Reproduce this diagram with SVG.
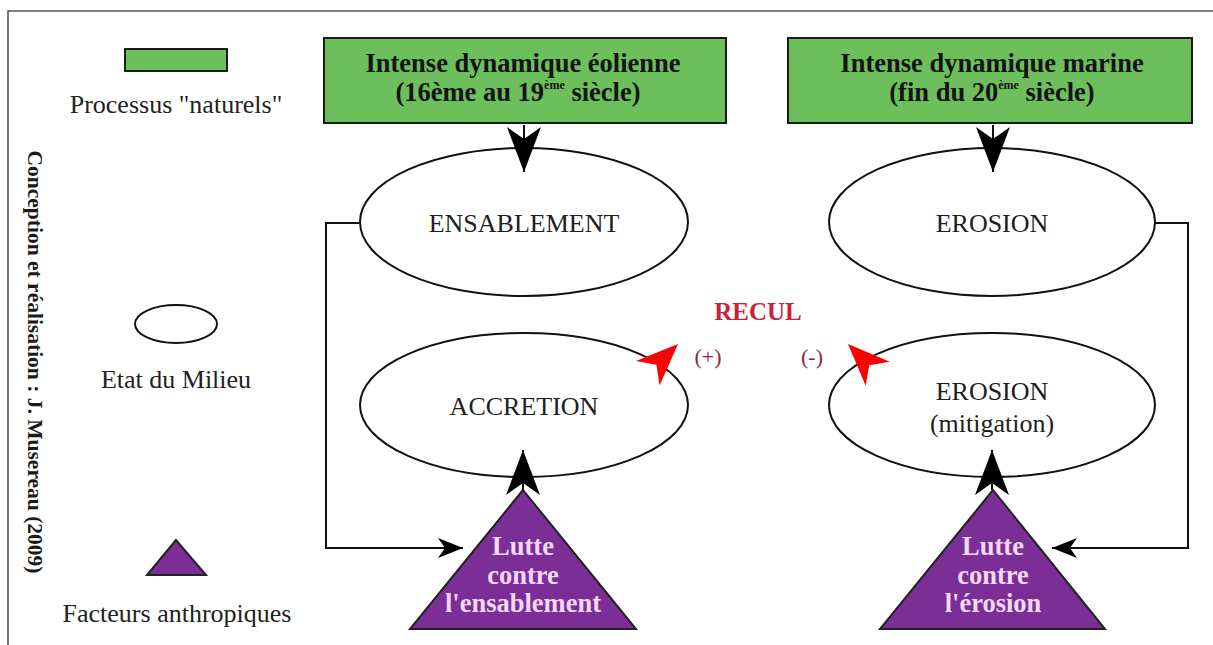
<svg xmlns="http://www.w3.org/2000/svg" width="1213" height="645" viewBox="0 0 1213 645">
<style>
.serif{font-family:"Liberation Serif","Times New Roman",serif;}
.box{fill:#6dbf5c;stroke:#1a1a1a;stroke-width:2;}
.boxt{font-family:"Liberation Serif","Times New Roman",serif;font-weight:bold;font-size:26.5px;fill:#141414;text-anchor:middle;}
.ell{fill:#ffffff;stroke:#111;stroke-width:2;}
.ellt{font-family:"Liberation Serif","Times New Roman",serif;font-size:26px;fill:#1e1e1e;text-anchor:middle;}
.tri{fill:#7a2e96;stroke:#222;stroke-width:2;}
.trit{font-family:"Liberation Serif","Times New Roman",serif;font-weight:bold;font-size:26.5px;fill:#f6d8f6;text-anchor:middle;}
.leg{font-family:"Liberation Serif","Times New Roman",serif;font-size:26px;fill:#222;text-anchor:middle;}
.conn{fill:none;stroke:#111;stroke-width:2;}
.red{fill:#ff0000;}
.sup{font-size:12px;}
</style>
<defs>
<marker id="big" markerUnits="userSpaceOnUse" viewBox="-46 -18 47 36" refX="0" refY="0" markerWidth="47" markerHeight="36" orient="auto" overflow="visible">
<path d="M0,0 L-45,-17 L-33,0 L-45,17 Z" fill="#000"/>
</marker>
<marker id="small" markerUnits="userSpaceOnUse" viewBox="-26 -11 27 22" refX="0" refY="0" markerWidth="27" markerHeight="22" orient="auto" overflow="visible">
<path d="M0,0 L-25,-10 L-18,0 L-25,10 Z" fill="#000"/>
</marker>
</defs>
<rect x="0" y="0" width="1213" height="645" fill="#ffffff"/>
<path d="M8,645 L8,11 L1213,11" fill="none" stroke="#555" stroke-width="1.6"/>

<g id="credit">
<text class="serif" x="0" y="0" font-weight="bold" font-size="21.5" fill="#1a1a1a" text-anchor="middle" transform="translate(28,362) rotate(90)">Conception et réalisation : J. Musereau (2009)</text>
</g>

<g id="legend-process">
<rect x="125" y="49" width="102" height="22" class="box"/>
<text class="leg" x="176" y="113">Processus "naturels"</text>
</g>
<g id="legend-state">
<ellipse cx="176" cy="324" rx="41" ry="19" class="ell"/>
<text class="leg" x="176" y="388">Etat du Milieu</text>
</g>
<g id="legend-anthro">
<polygon points="176,540 147,575 206,575" class="tri"/>
<text class="leg" x="177" y="622">Facteurs anthropiques</text>
</g>

<g id="box-eolienne">
<rect x="324" y="38" width="402" height="85" class="box"/>
<text class="boxt" x="523" y="72">Intense dynamique éolienne</text>
<text class="boxt" x="518" y="101">(16ème au 19<tspan class="sup" dy="-12">ème</tspan><tspan dy="12"> siècle)</tspan></text>
</g>
<g id="box-marine">
<rect x="788" y="38" width="404" height="85" class="box"/>
<text class="boxt" x="992" y="72">Intense dynamique marine</text>
<text class="boxt" x="992" y="101">(fin du 20<tspan class="sup" dy="-12">ème</tspan><tspan dy="12"> siècle)</tspan></text>
</g>

<g id="ens">
<ellipse cx="524" cy="222" rx="164" ry="74" class="ell"/>
<text class="ellt" x="524" y="232">ENSABLEMENT</text>
</g>
<g id="ero">
<ellipse cx="992" cy="222" rx="163" ry="74" class="ell"/>
<text class="ellt" x="992" y="232">EROSION</text>
</g>
<g id="acc">
<ellipse cx="524" cy="405" rx="164" ry="72" class="ell"/>
<text class="ellt" x="524" y="415">ACCRETION</text>
</g>
<g id="ero-mit">
<ellipse cx="992" cy="405" rx="163" ry="72" class="ell"/>
<text class="ellt" x="992" y="400">EROSION</text>
<text class="ellt" x="992" y="432">(mitigation)</text>
</g>

<g id="lutte-ens">
<polygon points="523,490 410,629 636,629" class="tri"/>
<text class="trit" x="523" y="555">Lutte</text>
<text class="trit" x="523" y="584">contre</text>
<text class="trit" x="523" y="612">l'ensablement</text>
</g>
<g id="lutte-ero">
<polygon points="993,490 880,629 1105,629" class="tri"/>
<text class="trit" x="993" y="555">Lutte</text>
<text class="trit" x="993" y="584">contre</text>
<text class="trit" x="993" y="612">l'érosion</text>
</g>

<g id="recul">
<text class="serif" x="758" y="320" font-weight="bold" font-size="25" fill="#c81f3c" text-anchor="middle">RECUL</text>
<text class="serif" x="708" y="364" font-size="22" fill="#8e2444" text-anchor="middle">(+)</text>
<text class="serif" x="812" y="364" font-size="22" fill="#8e2444" text-anchor="middle">(-)</text>
</g>

<g id="connectors">
<path class="conn" d="M524,125 L524,172" marker-end="url(#big)"/>
<path class="conn" d="M993,125 L993,172" marker-end="url(#big)"/>
<path class="conn" d="M523,490 L523,450" marker-end="url(#big)"/>
<path class="conn" d="M992,490 L992,450" marker-end="url(#big)"/>
<path class="conn" d="M360,223 L326,223 L326,548 L463,548" marker-end="url(#small)"/>
<path class="conn" d="M1155,223 L1188,223 L1188,548 L1052,548" marker-end="url(#small)"/>
<path class="red" d="M0,0 L-42,-17 L-30,0 L-42,17 Z" transform="translate(678,344) rotate(-44)"/>
<path class="red" d="M0,0 L-42,-17 L-30,0 L-42,17 Z" transform="translate(848,344) rotate(-135)"/>
</g>
</svg>
